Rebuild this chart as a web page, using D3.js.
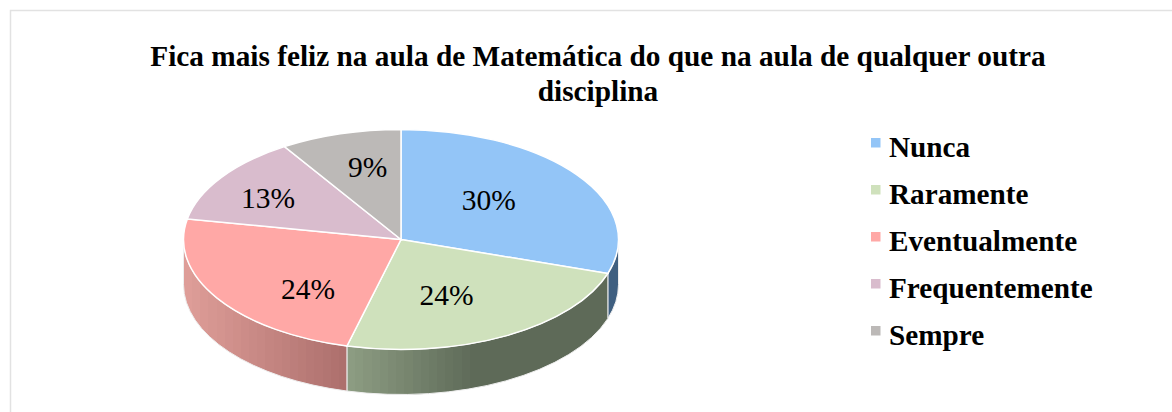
<!DOCTYPE html>
<html>
<head>
<meta charset="utf-8">
<script src="https://cdn.jsdelivr.net/npm/d3@7/dist/d3.min.js"></script>
<style>
  html, body { margin: 0; padding: 0; background: #fff; }
  text { font-family: "Liberation Serif", serif; fill: #000; }
</style>
</head>
<body>
<div id="container"></div>
<script>
let categories = ["Nunca", "Raramente", "Eventualmente", "Frequentemente", "Sempre"];
let values = [30, 24, 24, 13, 9];
let titleLines = ["Fica mais feliz na aula de Matemática do que na aula de qualquer outra", "disciplina"];

let colors = ["#93c5f7", "#cfe1bc", "#ffa8a6", "#d9bccd", "#bcb9b7"];

let width = 1172;
let height = 412;
let cx = 401, cy = 239.5;
let rx = 217.5, ry = 110;
let depth = 45;
let squash = ry / rx;

let svg = d3.select("#container")
  .append("svg")
  .attr("width", width)
  .attr("height", height)
  .style("display", "block");

// frame, only left and top show in the crop
svg.append("path")
  .attr("d", "M10.5," + height + "V10.5H" + width)
  .attr("fill", "none")
  .attr("stroke", "#e2e2e2")
  .attr("stroke-width", 1.5);

svg.selectAll("text.title").data(titleLines)
  .enter().append("text")
  .attr("class", "title")
  .attr("x", 598)
  .attr("y", function (d, i) { return 66 + i * 35; })
  .attr("text-anchor", "middle")
  .style("font-size", "29.3px")
  .style("font-weight", "bold")
  .text(function (d) { return d; });

let pie = d3.pie().sort(null).value(function (d) { return d; });
let slices = pie(values);

let defs = svg.append("defs");

// banded gradient, x is relative to the pie center because the walls are translated
function wallGradient(id, x1, x2, from, to, bands) {
  let g = defs.append("linearGradient")
    .attr("id", id)
    .attr("gradientUnits", "userSpaceOnUse")
    .attr("x1", x1 - cx).attr("x2", x2 - cx).attr("y1", 0).attr("y2", 0);
  let mix = d3.interpolateRgb(from, to);
  for (let i = 0; i < bands; i++) {
    g.append("stop").attr("offset", i / bands).attr("stop-color", mix(i / (bands - 1)));
    g.append("stop").attr("offset", (i + 1) / bands).attr("stop-color", mix(i / (bands - 1)));
  }
}
wallGradient("wall-green", 347, 478, "#8c9c82", "#5e6a58", 16);
wallGradient("wall-red", 184, 347, "#de9d98", "#ad706d", 20);

let wallFill = ["#3f5f80", "url(#wall-green)", "url(#wall-red)"];

// side wall of a slice, drawn in the unsquashed space so arc() can be used
function wallPath(a0, a1) {
  let p = d3.path();
  let h = depth / squash;
  p.arc(0, 0, rx, a0 - Math.PI / 2, a1 - Math.PI / 2);
  p.lineTo(rx * Math.cos(a1 - Math.PI / 2), rx * Math.sin(a1 - Math.PI / 2) + h);
  p.arc(0, h, rx, a1 - Math.PI / 2, a0 - Math.PI / 2, true);
  p.closePath();
  return p.toString();
}

let pieG = svg.append("g");

let front = slices.filter(function (s) {
  return s.endAngle > Math.PI / 2 && s.startAngle < 1.5 * Math.PI;
});

front.forEach(function (s, i) {
  let a0 = Math.max(s.startAngle, Math.PI / 2);
  let a1 = Math.min(s.endAngle, 1.5 * Math.PI);
  pieG.append("path")
    .attr("transform", "translate(" + cx + "," + cy + ") scale(1," + squash + ")")
    .attr("d", wallPath(a0, a1))
    .attr("fill", wallFill[i])
    .attr("stroke", "#eeeeee")
    .attr("stroke-width", 1)
    .attr("vector-effect", "non-scaling-stroke");
});

let arc = d3.arc().innerRadius(0).outerRadius(rx);

pieG.selectAll("path.top").data(slices)
  .enter().append("path")
  .attr("class", "top")
  .attr("transform", "translate(" + cx + "," + cy + ") scale(1," + squash + ")")
  .attr("d", arc)
  .attr("fill", function (d, i) { return colors[i]; })
  .attr("stroke", "#fff")
  .attr("stroke-width", 1.5)
  .attr("vector-effect", "non-scaling-stroke");

// label spot = middle of the slice at 55% radius, then nudged like the original layout
let labelArc = d3.arc().innerRadius(rx * 0.55).outerRadius(rx * 0.55);
let labelNudge = [[-9, 6], [-12, 12], [8, 27], [-34, 3], [0, -4]];

svg.selectAll("text.pct").data(slices)
  .enter().append("text")
  .attr("class", "pct")
  .attr("x", function (d, i) { return cx + labelArc.centroid(d)[0] + labelNudge[i][0]; })
  .attr("y", function (d, i) { return cy + labelArc.centroid(d)[1] * squash + labelNudge[i][1]; })
  .attr("text-anchor", "middle")
  .style("font-size", "29.5px")
  .text(function (d) { return d.value + "%"; });

let legendY = d3.scalePoint().domain(categories).range([156, 344]);

let legend = svg.selectAll("g.legend").data(categories)
  .enter().append("g")
  .attr("class", "legend")
  .attr("transform", function (d) { return "translate(871," + legendY(d) + ")"; });

legend.append("rect")
  .attr("x", 0).attr("y", -18)
  .attr("width", 9.5).attr("height", 9.5)
  .attr("fill", function (d, i) { return colors[i]; });

legend.append("text")
  .attr("x", 18)
  .attr("y", 0.5)
  .style("font-size", "29.2px")
  .style("font-weight", "bold")
  .text(function (d) { return d; });
</script>
</body>
</html>
